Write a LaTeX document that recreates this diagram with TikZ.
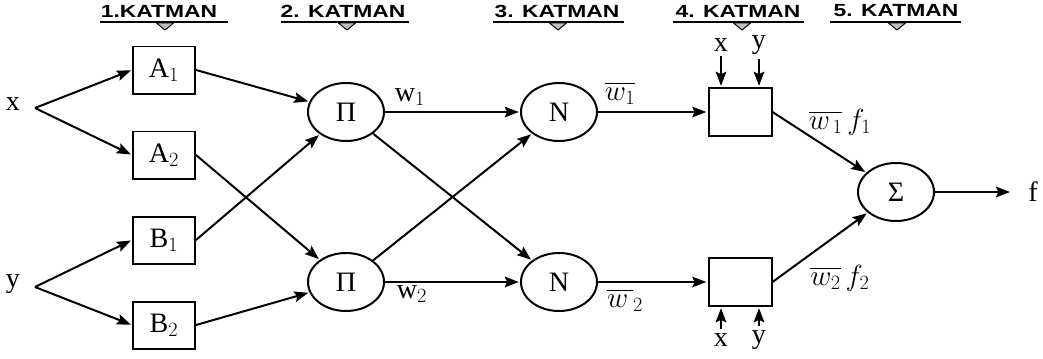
\documentclass[tikz,border=0pt]{standalone}
\usepackage{amsmath}
\usepackage{graphicx}
\usepackage{fontspec}
\setmainfont{Liberation Serif}
\setsansfont{Liberation Sans}
\usetikzlibrary{shapes,arrows,arrows.meta}

\begin{document}
\begin{tikzpicture}[->,>={Stealth[length=12pt,width=9pt,inset=2pt]},shorten >=1pt,x=0.03cm,y=-0.03cm,line width=1.7pt,font=\fontsize{24}{28}\selectfont]
\tikzstyle{layer}=[draw,rectangle,inner sep=1pt,minimum width=1.86cm,minimum height=1.41cm]
\tikzstyle{unit}=[draw,ellipse,inner sep=1pt,minimum width=2.28cm,minimum height=1.74cm]
\tikzstyle{rulebox}=[draw,rectangle,minimum width=1.89cm,minimum height=1.44cm]
\tikzstyle{head}=[font=\fontsize{15}{17}\selectfont\sffamily\bfseries]
\useasboundingbox (0,0) rectangle (1043,358);
% layer headers
\foreach \cx/\tx/\la/\lb/\txt in {165/159/100/229/1.KATMAN, 347/343/281/410/2. KATMAN, 558/557/493/625/3. KATMAN, 742/738/673/805/4. KATMAN, 897/896/830/962/5. KATMAN}
{
  \node[head] (k\cx) at (\tx,11) {\scalebox{1.3}[1]{\txt}};
  \draw[-,line width=1.2pt] (\la,22) -- (\lb,22);
  \draw[-,fill=gray!50,line width=0.8pt] (\cx-8.5,23) -- (\cx+8.5,23) -- (\cx,30) -- cycle;
}
% inputs
\node (x) at (13,104) {x};
\node (y) at (13,284) {y};
\coordinate (xs) at (35,108);
\coordinate (ys) at (35,287);
% layer 1
\node[layer] (A1) at (164,70) {A$_1$};
\node[layer] (A2) at (164,155) {A$_2$};
\node[layer] (B1) at (164,240) {B$_1$};
\node[layer] (B2) at (164,325) {B$_2$};
% layer 2 and 3
\node[unit] (P1) at (346,112) {Π};
\node[unit] (P2) at (346,282) {Π};
\node[unit] (N1) at (559,112) {N};
\node[unit] (N2) at (559,282) {N};
% layer 4
\node[rulebox] (S1) at (740,112) {};
\node[rulebox] (S2) at (740,282) {};
\node (x1) at (721,45) {x};
\node (y1) at (759,45) {y};
\node (x2) at (721,340) {x};
\node (y2) at (759,340) {y};
% layer 5
\node[unit] (Sum) at (896,192) {Σ};
\node (f) at (1033,192) {f};
% labels
\node (w1) at (410,97) {w$_1$};
\node (w2) at (412,294) {w$_2$};
\node (wb1) at (620,93) {$\overline{w_1}$};
\node (wb2) at (625,300) {$\overline{w\,}_2$};
\node (wf1) at (840,122) {$\overline{w_{\,1}}\,f_1$};
\node (wf2) at (840,278) {$\overline{w_2}\,f_2$};
\path (xs) edge (A1.west)
           edge (A2.west)
      (ys) edge (B1.west)
           edge (B2.west)
      (A1.east) edge (P1)
      (B1.east) edge (P1)
      (A2.east) edge (P2)
      (B2.east) edge (P2)
      (P1) edge (N1)
           edge (N2)
      (P2) edge (N1)
           edge (N2)
      (N1) edge (S1)
      (N2) edge (S2)
      (S1.east) edge (Sum)
      (S2.east) edge (Sum)
      (Sum) edge [shorten >=0.4cm] (f);
\draw (x1) -- (x1 |- S1.north);
\draw (y1) -- (y1 |- S1.north);
\draw (x2) -- (x2 |- S2.south);
\draw (y2) -- (y2 |- S2.south);
\end{tikzpicture}
\end{document}
